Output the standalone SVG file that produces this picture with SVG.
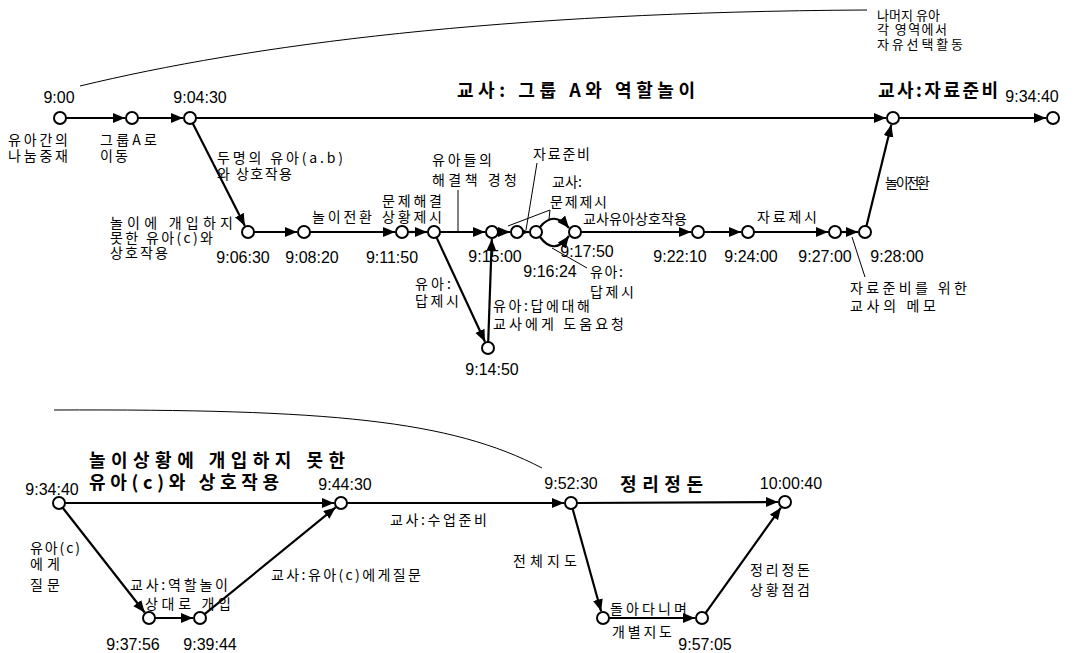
<svg xmlns="http://www.w3.org/2000/svg" width="1091" height="653" viewBox="0 0 1091 653">
<defs>
<marker id="ah" markerUnits="userSpaceOnUse" markerWidth="14" markerHeight="12" refX="12" refY="5" orient="auto">
<path d="M0,0 L12,5 L0,10 z" fill="#000"/>
</marker>
</defs>
<style>
.n{fill:#fff;stroke:#000;stroke-width:2}
.e{stroke:#000;stroke-width:2.2;fill:none;marker-end:url(#ah)}
.p{stroke:#000;stroke-width:1;fill:none}
.t{font-family:"Liberation Sans",Arial,sans-serif;font-size:16px;text-anchor:middle;fill:#000}
.k{font-family:"Noto Sans CJK KR","Noto Sans CJK SC",sans-serif;font-size:14px;fill:#000}
.ks{font-family:"Noto Sans CJK KR","Noto Sans CJK SC",sans-serif;font-size:13px;fill:#000}
.kb{font-family:"Noto Sans CJK KR","Noto Sans CJK SC",sans-serif;font-size:18px;font-weight:bold;fill:#000}
</style>
<rect width="1091" height="653" fill="#fff"/>

<g id="curves">
<path class="p" d="M80,86 C250,45 500,12 867,10"/>
<path class="p" d="M54,410 C330,409 450,420 542,468"/>
</g>

<g id="connectors">
<line class="e" x1="66" y1="118" x2="125" y2="118"/>
<line class="e" x1="138" y1="118" x2="183" y2="118"/>
<line class="e" x1="196" y1="118" x2="886" y2="118"/>
<line class="e" x1="899" y1="118" x2="1046" y2="118"/>
<line class="e" x1="192.7" y1="123.3" x2="244.8" y2="225.8"/>
<line class="e" x1="254" y1="232" x2="297" y2="232"/>
<line class="e" x1="310" y1="232" x2="395" y2="232"/>
<line class="e" x1="408" y1="232" x2="427" y2="232"/>
<line class="e" x1="440" y1="232" x2="485" y2="232"/>
<line class="e" x1="436.5" y1="237.4" x2="485" y2="341.7"/>
<line class="e" x1="488.2" y1="342" x2="491.8" y2="239"/>
<line class="e" x1="498" y1="232" x2="510" y2="232"/>
<line class="e" x1="523" y1="232" x2="529" y2="232"/>
<path class="e" d="M540,227 Q554,210 569,228"/>
<path class="e" d="M540,237 Q554,256 569,236"/>
<line class="e" x1="581" y1="232" x2="691" y2="232"/>
<line class="e" x1="704" y1="232" x2="741" y2="232"/>
<line class="e" x1="754" y1="232" x2="828" y2="232"/>
<line class="e" x1="841" y1="232" x2="858" y2="232"/>
<line class="e" x1="866.4" y1="226.2" x2="891.3" y2="124.8"/>
<line class="e" x1="65" y1="503" x2="334" y2="503"/>
<line class="e" x1="347" y1="503" x2="564" y2="503"/>
<line class="e" x1="577" y1="503" x2="778" y2="502"/>
<line class="e" x1="62.7" y1="507.7" x2="144.7" y2="612.5"/>
<line class="e" x1="155" y1="618" x2="193" y2="618"/>
<line class="e" x1="204.6" y1="614.2" x2="335.6" y2="507.4"/>
<line class="e" x1="572.6" y1="508.8" x2="601.1" y2="611.3"/>
<line class="e" x1="609" y1="618" x2="695" y2="618"/>
<line class="e" x1="705.5" y1="613.1" x2="780.9" y2="507.7"/>
<line class="p" x1="458" y1="190" x2="458" y2="231"/>
<line class="p" x1="537" y1="163" x2="526" y2="230"/>
<line class="p" x1="550" y1="210" x2="508" y2="226"/>
<line class="p" x1="550" y1="210" x2="549" y2="219"/>
<line class="p" x1="587" y1="268" x2="552" y2="248"/>
<line class="p" x1="865" y1="277" x2="852" y2="237"/>
</g>

<g id="n0900"><circle class="n" cx="60" cy="118" r="6"/><text class="t" x="59" y="103">9:00</text></g>
<g id="n_group"><circle class="n" cx="132" cy="118" r="6"/></g>
<g id="n090430"><circle class="n" cx="190" cy="118" r="6"/><text class="t" x="200" y="103">9:04:30</text></g>
<g id="n_prep"><circle class="n" cx="893" cy="118" r="6"/></g>
<g id="n093440a"><circle class="n" cx="1053" cy="118" r="6"/><text class="t" x="1032" y="102">9:34:40</text></g>
<g id="n090630"><circle class="n" cx="248" cy="232" r="6"/><text class="t" x="243" y="263">9:06:30</text></g>
<g id="n090820"><circle class="n" cx="304" cy="232" r="6"/><text class="t" x="312" y="263">9:08:20</text></g>
<g id="n091150"><circle class="n" cx="402" cy="232" r="6"/><text class="t" x="392" y="263">9:11:50</text></g>
<g id="n_problem"><circle class="n" cx="434" cy="232" r="6"/></g>
<g id="n091500"><circle class="n" cx="492" cy="232" r="6"/><text class="t" x="495" y="262">9:15:00</text></g>
<g id="n091450"><circle class="n" cx="488" cy="348" r="6"/><text class="t" x="492" y="375">9:14:50</text></g>
<g id="n_mat"><circle class="n" cx="517" cy="232" r="6"/></g>
<g id="n091624"><circle class="n" cx="536" cy="232" r="6"/><text class="t" x="550" y="277">9:16:24</text></g>
<g id="n091750"><circle class="n" cx="575" cy="232" r="6"/><text class="t" x="587" y="257">9:17:50</text></g>
<g id="n092210"><circle class="n" cx="698" cy="232" r="6"/><text class="t" x="680" y="262">9:22:10</text></g>
<g id="n092400"><circle class="n" cx="748" cy="232" r="6"/><text class="t" x="751" y="262">9:24:00</text></g>
<g id="n092700"><circle class="n" cx="835" cy="232" r="6"/><text class="t" x="825" y="262">9:27:00</text></g>
<g id="n092800"><circle class="n" cx="865" cy="232" r="6"/><text class="t" x="897" y="262">9:28:00</text></g>

<g id="n093440b"><circle class="n" cx="59" cy="503" r="6"/><text class="t" x="52" y="495">9:34:40</text></g>
<g id="n094430"><circle class="n" cx="341" cy="503" r="6"/><text class="t" x="345" y="490">9:44:30</text></g>
<g id="n093756"><circle class="n" cx="149" cy="618" r="6"/><text class="t" x="133" y="650">9:37:56</text></g>
<g id="n093944"><circle class="n" cx="200" cy="618" r="6"/><text class="t" x="210" y="650">9:39:44</text></g>
<g id="n095230"><circle class="n" cx="571" cy="503" r="6"/><text class="t" x="571" y="489">9:52:30</text></g>
<g id="n100040"><circle class="n" cx="785" cy="502" r="6"/><text class="t" x="791" y="489">10:00:40</text></g>
<g id="n_walk"><circle class="n" cx="603" cy="618" r="6"/></g>
<g id="n095705"><circle class="n" cx="702" cy="618" r="6"/><text class="t" x="705" y="650">9:57:05</text></g>

<g id="labels">
<text class="kb" x="457" y="97" textLength="238" lengthAdjust="spacing">교사: 그룹 A와 역할놀이</text>
<text class="kb" x="878" y="97" textLength="120" lengthAdjust="spacing">교사:자료준비</text>
<text class="ks" x="877" y="20" textLength="63" lengthAdjust="spacing">나머지 유아</text>
<text class="ks" x="877" y="34" textLength="70" lengthAdjust="spacing">각 영역에서</text>
<text class="ks" x="877" y="49" textLength="86" lengthAdjust="spacing">자유선택활동</text>
<text class="k" x="8" y="145" textLength="60" lengthAdjust="spacing">유아간의</text>
<text class="k" x="8" y="161" textLength="60" lengthAdjust="spacing">나눔중재</text>
<text class="k" x="100" y="145" textLength="57" lengthAdjust="spacing">그룹A로</text>
<text class="k" x="100" y="161" textLength="28" lengthAdjust="spacing">이동</text>
<text class="k" x="217" y="163" textLength="126" lengthAdjust="spacing">두명의 유아(a.b)</text>
<text class="k" x="217" y="179" textLength="75" lengthAdjust="spacing">와 상호작용</text>
<text class="k" x="110" y="228" textLength="123" lengthAdjust="spacing">놀이에 개입하지</text>
<text class="k" x="110" y="243" textLength="103" lengthAdjust="spacing">못한 유아(c)와</text>
<text class="k" x="110" y="258" textLength="58" lengthAdjust="spacing">상호작용</text>
<text class="k" x="312" y="222" textLength="60" lengthAdjust="spacing">놀이전환</text>
<text class="k" x="382" y="206" textLength="60" lengthAdjust="spacing">문제해결</text>
<text class="k" x="382" y="222" textLength="60" lengthAdjust="spacing">상황제시</text>
<text class="k" x="432" y="165" textLength="60" lengthAdjust="spacing">유아들의</text>
<text class="k" x="432" y="185" textLength="85" lengthAdjust="spacing">해결책 경청</text>
<text class="k" x="533" y="159" textLength="57" lengthAdjust="spacing">자료준비</text>
<text class="k" x="552" y="187" textLength="30" lengthAdjust="spacing">교사:</text>
<text class="k" x="550" y="207" textLength="57" lengthAdjust="spacing">문제제시</text>
<text class="k" x="583" y="224" textLength="104" lengthAdjust="spacing">교사유아상호작용</text>
<text class="k" x="590" y="277" textLength="33" lengthAdjust="spacing">유아:</text>
<text class="k" x="590" y="297" textLength="44" lengthAdjust="spacing">답제시</text>
<text class="k" x="415" y="289" textLength="36" lengthAdjust="spacing">유아:</text>
<text class="k" x="415" y="306" textLength="44" lengthAdjust="spacing">답제시</text>
<text class="k" x="493" y="311" textLength="97" lengthAdjust="spacing">유아:답에대해</text>
<text class="k" x="493" y="329" textLength="131" lengthAdjust="spacing">교사에게 도움요청</text>
<text class="k" x="757" y="222" textLength="60" lengthAdjust="spacing">자료제시</text>
<text class="k" x="885" y="188" textLength="45" lengthAdjust="spacing">놀이전환</text>
<text class="k" x="850" y="293" textLength="117" lengthAdjust="spacing">자료준비를 위한</text>
<text class="k" x="850" y="311" textLength="86" lengthAdjust="spacing">교사의 메모</text>

<text class="kb" x="89" y="467" textLength="256" lengthAdjust="spacing">놀이상황에 개입하지 못한</text>
<text class="kb" x="89" y="489" textLength="190" lengthAdjust="spacing">유아(c)와 상호작용</text>
<text class="k" x="30" y="553" textLength="50" lengthAdjust="spacing">유아(c)</text>
<text class="k" x="30" y="569" textLength="30" lengthAdjust="spacing">에게</text>
<text class="k" x="30" y="590" textLength="30" lengthAdjust="spacing">질문</text>
<text class="k" x="130" y="590" textLength="98" lengthAdjust="spacing">교사:역할놀이</text>
<text class="k" x="145" y="609" textLength="86" lengthAdjust="spacing">상대로 개입</text>
<text class="k" x="271" y="580" textLength="150" lengthAdjust="spacing">교사:유아(c)에게질문</text>
<text class="k" x="390" y="525" textLength="97" lengthAdjust="spacing">교사:수업준비</text>
<text class="k" x="513" y="566" textLength="64" lengthAdjust="spacing">전체지도</text>
<text class="kb" x="620" y="491" textLength="83" lengthAdjust="spacing">정리정돈</text>
<text class="k" x="750" y="575" textLength="60" lengthAdjust="spacing">정리정돈</text>
<text class="k" x="750" y="595" textLength="60" lengthAdjust="spacing">상황점검</text>
<text class="k" x="610" y="614" textLength="77" lengthAdjust="spacing">돌아다니며</text>
<text class="k" x="612" y="637" textLength="60" lengthAdjust="spacing">개별지도</text>
</g>
</svg>
